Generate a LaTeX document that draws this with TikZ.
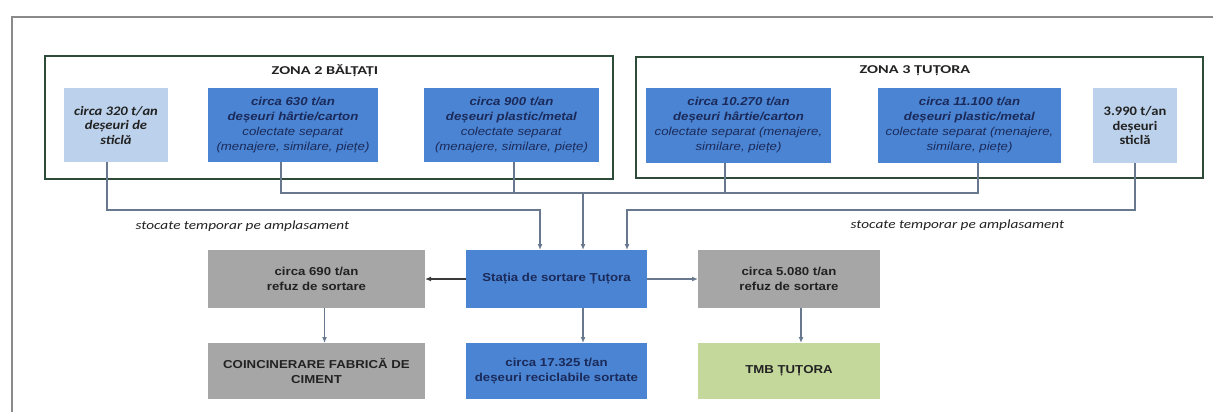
\documentclass[tikz,border=0pt]{standalone}
\usepackage{fontspec}
\setmainfont{Liberation Sans}
\newfontfamily\arialx[FakeStretch=1.15]{Liberation Sans}
\newfontfamily\calx[FakeStretch=1.12]{Carlito}
\newfontfamily\calz[FakeStretch=1.35]{Carlito}
\newfontfamily\cals[FakeStretch=1.22]{Carlito}
\usetikzlibrary{arrows.meta,calc}
\definecolor{cBlue}{HTML}{4A84D2}
\definecolor{cLight}{HTML}{BCD2EC}
\definecolor{cGray}{HTML}{A6A6A6}
\definecolor{cGreen}{HTML}{C4D89C}
\definecolor{cNavy}{HTML}{1B2A5A}
\definecolor{cZone}{HTML}{2E4A38}
\definecolor{cLine}{HTML}{67788F}
\definecolor{cFrame}{HTML}{8A8A8A}
\definecolor{cDark}{HTML}{3A3A3A}
\definecolor{cTxt}{HTML}{222222}
\tikzset{
  boxbase/.style={inner sep=0pt, outer sep=0pt, align=center},
  bluebox/.style={boxbase, fill=cBlue, text=cNavy, font=\arialx\fontsize{11.5}{15}\selectfont},
  glassbox/.style={boxbase, fill=cLight, text=cTxt, font=\calx\fontsize{13}{14.5}\selectfont\bfseries},
  graybox/.style={boxbase, fill=cGray, text=cTxt, font=\arialx\fontsize{11.5}{15}\selectfont\bfseries},
  greenbox/.style={boxbase, fill=cGreen, text=cTxt, font=\arialx\fontsize{11.5}{15}\selectfont\bfseries},
  zonebox/.style={inner sep=0pt, outer sep=0pt, draw=cZone, line width=1.1pt},
  zonetitle/.style={inner sep=0pt, text=cTxt, font=\calz\fontsize{12}{14}\selectfont\bfseries},
  notelabel/.style={inner sep=0pt, text=cTxt, font=\cals\fontsize{12.5}{14}\selectfont\itshape},
  conn/.style={draw=cLine, line width=1.8pt},
  arr/.style={conn, -{Latex[length=6pt,width=5pt]}},
  frameline/.style={draw=cFrame, line width=1.5pt}
}
\begin{document}
\begin{tikzpicture}[x=1pt,y=-1pt]
\useasboundingbox (0,0) rectangle (1213,412);
\fill[white] (0,0) rectangle (1213,412);
% outer frame
\draw[frameline] (12,412) -- (12,17) -- (1213,17);
% zones
\node[zonebox, minimum width=568pt, minimum height=123pt] (z2) at (329,117.5) {};
\node[zonebox, minimum width=567pt, minimum height=121pt] (z3) at (919.5,117.5) {};
\node[zonetitle] (t2) at (325,71) {ZONA 2 BĂLȚAȚI};
\node[zonetitle] (t3) at (915,71) {ZONA 3 ȚUȚORA};
% zone 2 boxes
\node[glassbox, minimum width=104pt, minimum height=74pt] (g320) at (116,125)
  {\itshape circa 320 t/an\\ \itshape deșeuri de\\ \itshape sticlă};
\node[bluebox, minimum width=170pt, minimum height=74pt] (p630) at (293,125)
  {\textbf{\textit{circa 630 t/an}}\\ \textbf{\textit{deșeuri hârtie/carton}}\\ \textit{colectate separat}\\ \textit{(menajere, similare, piețe)}};
\node[bluebox, minimum width=175pt, minimum height=74pt] (m900) at (511.5,125)
  {\textbf{\textit{circa 900 t/an}}\\ \textbf{\textit{deșeuri plastic/metal}}\\ \textit{colectate separat}\\ \textit{(menajere, similare, piețe)}};
% zone 3 boxes
\node[bluebox, minimum width=185pt, minimum height=75pt] (p10270) at (738.5,125.5)
  {\textbf{\textit{circa 10.270 t/an}}\\ \textbf{\textit{deșeuri hârtie/carton}}\\ \textit{colectate separat (menajere,}\\ \textit{similare, piețe)}};
\node[bluebox, minimum width=183pt, minimum height=75pt] (m11100) at (969.5,125.5)
  {\textbf{\textit{circa 11.100 t/an}}\\ \textbf{\textit{deșeuri plastic/metal}}\\ \textit{colectate separat (menajere,}\\ \textit{similare, piețe)}};
\node[glassbox, minimum width=84pt, minimum height=75pt] (g3990) at (1135,125.5)
  {3.990 t/an\\ deșeuri\\ sticlă};
% lower boxes
\node[bluebox, minimum width=181pt, minimum height=58pt, font=\arialx\fontsize{11.5}{15}\selectfont\bfseries] (st) at (556.5,279) {Stația de sortare Țuțora};
\node[graybox, minimum width=217pt, minimum height=58pt] (rg1) at (316.5,279) {circa 690 t/an\\ refuz de sortare};
\node[graybox, minimum width=182pt, minimum height=58pt] (rg2) at (789,279) {circa 5.080 t/an\\ refuz de sortare};
\node[graybox, minimum width=217pt, minimum height=56pt] (coinc) at (316.5,371) {COINCINERARE FABRICĂ DE\\ CIMENT};
\node[bluebox, minimum width=181pt, minimum height=56pt, font=\arialx\fontsize{11.5}{15}\selectfont\bfseries] (rec) at (556.5,371) {circa 17.325 t/an\\ deșeuri reciclabile sortate};
\node[greenbox, minimum width=182pt, minimum height=56pt] (tmb) at (789,371) {TMB ȚUȚORA};
% labels
\node[notelabel] (n1) at (242.5,226) {stocate temporar pe amplasament};
\node[notelabel] (n2) at (957.5,225) {stocate temporar pe amplasament};
% collector bus
\coordinate (b1) at (281,193);
\coordinate (b2) at (514,193);
\coordinate (b3) at (725,193);
\coordinate (b4) at (978,193);
\coordinate (b0) at (583,193);
\draw[conn] (p630.south -| b1) -- (b1) -- (b4) -- (m11100.south -| b4);
\draw[conn] (m900.south -| b2) -- (b2);
\draw[conn] (p10270.south -| b3) -- (b3);
\draw[arr] (b0) -- (st.north -| b0);
% glass lines
\coordinate (gl) at (107,210);
\coordinate (gl2) at (540,210);
\draw[arr] (g320.south -| gl) -- (gl) -- (gl2) -- (st.north -| gl2);
\coordinate (gr) at (1135,210);
\coordinate (gr2) at (627,210);
\draw[arr] (g3990.south) -- (gr) -- (gr2) -- (st.north -| gr2);
% station outputs
\draw[arr] (st.south -| b0) -- (rec.north -| b0);
\draw[arr, draw=cDark] (st.west) -- (rg1.east);
\draw[arr] (st.east) -- (rg2.west);
\draw[arr] ($(rg1.south)+(8,0)$) -- ($(coinc.north)+(8,0)$);
\draw[arr] ($(rg2.south)+(12,0)$) -- ($(tmb.north)+(12,0)$);
\end{tikzpicture}
\end{document}
